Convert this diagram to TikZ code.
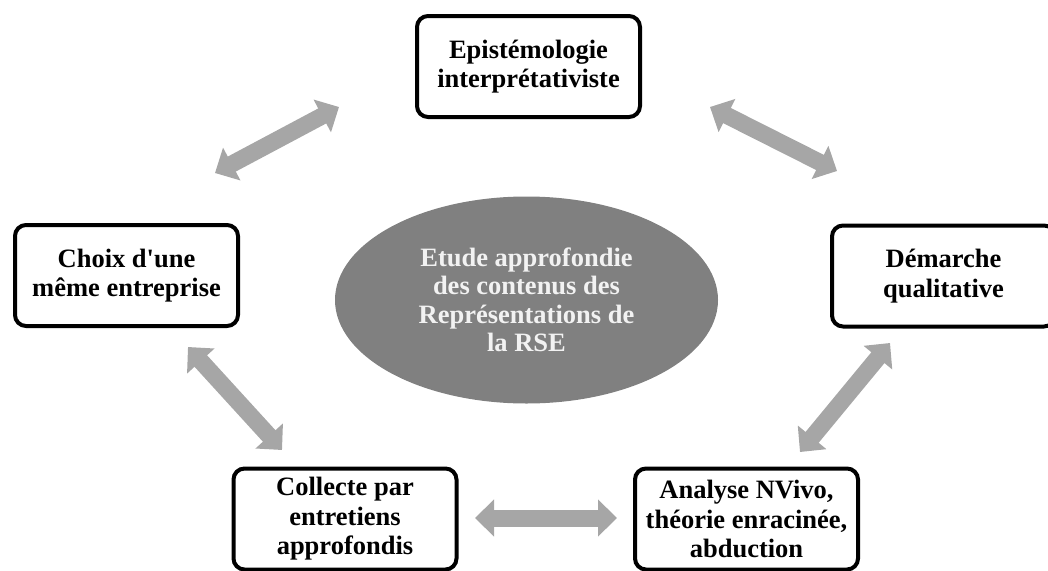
\documentclass[tikz,border=0pt]{standalone}
\usepackage{fontspec}
\setmainfont{Liberation Serif}[Ligatures=TeXOff]
\usetikzlibrary{arrows.meta,shapes.geometric}
\definecolor{arrowgray}{RGB}{166,166,166}
\definecolor{ellgray}{RGB}{128,128,128}
\definecolor{elltext}{RGB}{242,242,242}
\tikzset{
  stepbox/.style={draw=black, line width=4pt, rounded corners=11pt, fill=white,
    minimum width=223pt, minimum height=101pt, align=center, inner sep=2pt,
    font=\fontsize{26.5}{29.5}\selectfont\bfseries},
  centre/.style={ellipse, fill=ellgray, minimum width=383pt, minimum height=207pt,
    align=center, text=elltext, font=\fontsize{26.5}{28.5}\selectfont\bfseries},
  link/.style={draw=arrowgray, line width=17pt,
    {Triangle[width=36pt,length=19pt]}-{Triangle[width=36pt,length=19pt]}}
}
\begin{document}
\begin{tikzpicture}[x=1pt,y=-1pt]
\useasboundingbox (0,0) rectangle (1048,570);
\node[stepbox] (epi) at (528.5,66.5) {Epistémologie\\interprétativiste};
\node[stepbox] (choix) at (126.5,275.5) {Choix d'une\\même entreprise};
\node[stepbox] (dem) at (943.5,276) {Démarche\\qualitative};
\node[stepbox] (coll) at (345,519) {Collecte par\\entretiens\\approfondis};
\node[stepbox] (ana) at (746.5,519) {Analyse NVivo,\\théorie enracinée,\\abduction};
\node[centre] (etude) at (526.5,300) {Etude approfondie\\des contenus des\\Représentations de\\la RSE};
\coordinate (a1s) at (215,173);
\coordinate (a1e) at (339,107);
\coordinate (a2s) at (710,107);
\coordinate (a2e) at (837,171);
\coordinate (a3s) at (188,347);
\coordinate (a3e) at (282,450);
\coordinate (a4s) at (890,343);
\coordinate (a4e) at (800,452);
\coordinate (a5s) at (475,518);
\coordinate (a5e) at (617,518);
\draw[link] (a1s) -- (a1e);
\draw[link] (a2s) -- (a2e);
\draw[link] (a3s) -- (a3e);
\draw[link] (a4s) -- (a4e);
\draw[link] (a5s) -- (a5e);
\end{tikzpicture}
\end{document}
